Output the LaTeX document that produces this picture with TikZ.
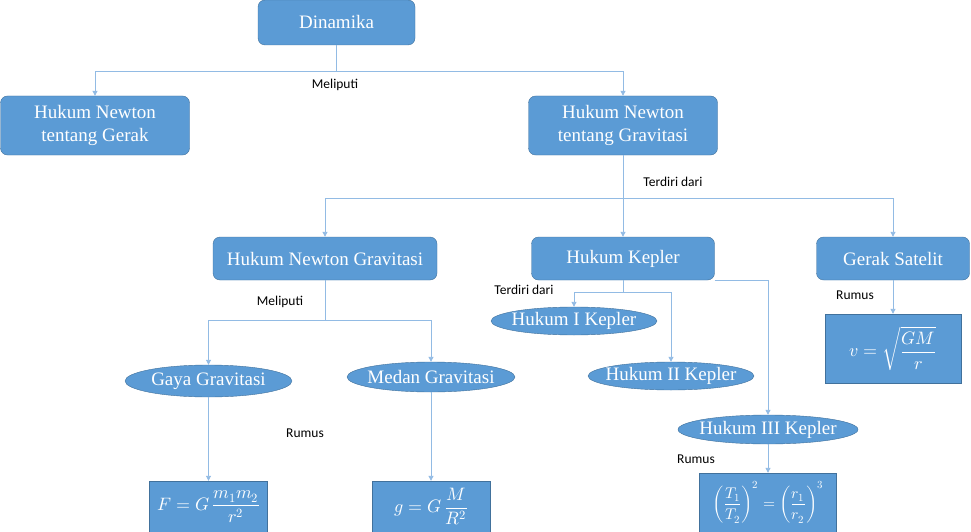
\documentclass[tikz,border=0pt]{standalone}
\usepackage{fontspec}
\usepackage{unicode-math}
\setmainfont{Liberation Serif}
\setmathfont{Latin Modern Math}
\newfontfamily\labelfont{Carlito}
\usetikzlibrary{arrows.meta,shapes.geometric}
\definecolor{boxblue}{HTML}{5B9BD5}
\definecolor{boxedge}{HTML}{41719C}
\definecolor{linkblue}{HTML}{92BBE4}
\newcommand{\ovaltext}[1]{\makebox[0pt]{#1}}

\begin{document}
\begin{tikzpicture}[
	x=1pt, y=-1pt,
	topic/.style={
		rectangle,
		draw=boxedge,
		fill=boxblue,
		text=white,
		align=center,
		rounded corners=7pt,
		font=\fontsize{19}{23}\selectfont,
		inner sep=0pt
	},
	oval/.style={
		ellipse,
		draw=boxedge,
		fill=boxblue,
		text=white,
		font=\fontsize{19}{23}\selectfont,
		inner sep=0pt
	},
	formula/.style={
		rectangle,
		draw=boxedge,
		fill=boxblue,
		text=white,
		font=\fontsize{18}{22}\selectfont,
		inner sep=0pt
	},
	link/.style={
		draw=linkblue,
		line width=0.9pt
	},
	arr/.style={
		link,
		-{Triangle[width=5pt,length=5pt]}
	},
	note/.style={
		font=\labelfont\fontsize{13.5}{15}\selectfont,
		text=black
	},
]
\useasboundingbox (0,0) rectangle (971,532);

\node[topic, minimum width=157pt, minimum height=45pt] (dinamika) at (336.5,22.5) {Dinamika};
\node[topic, minimum width=189pt, minimum height=59pt] (gerak) at (95,125.5) {Hukum Newton \\ tentang Gerak};
\node[topic, minimum width=189pt, minimum height=59pt] (gravitasi) at (623,125.5) {Hukum Newton \\ tentang Gravitasi};

\node[topic, minimum width=224pt, minimum height=43pt] (newtongrav) at (325,258.5) {Hukum Newton Gravitasi};
\node[topic, minimum width=183pt, minimum height=43pt] (kepler) at (623,258.5) {Hukum Kepler};
\node[topic, minimum width=153pt, minimum height=43pt] (satelit) at (893,258.5) {Gerak Satelit};

\node[oval, minimum width=167pt, minimum height=32pt] (gaya) at (208.5,381) {\ovaltext{Gaya Gravitasi}};
\node[oval, minimum width=168pt, minimum height=30pt] (medan) at (431,377) {\ovaltext{Medan Gravitasi}};

\node[oval, minimum width=166pt, minimum height=28pt] (keplerI) at (574,321) {\ovaltext{Hukum I Kepler}};
\node[oval, minimum width=166pt, minimum height=28pt] (keplerII) at (671,376) {\ovaltext{Hukum II Kepler}};
\node[oval, minimum width=180pt, minimum height=29pt] (keplerIII) at (768,429.5) {\ovaltext{Hukum III Kepler}};

\node[formula, minimum width=118pt, minimum height=51pt] (rumusF) at (208.5,506.5) {$\displaystyle F=G\,\frac{m_1m_2}{r^2}$};
\node[formula, minimum width=118pt, minimum height=51pt] (rumusg) at (431,506.5) {$\displaystyle g=G\,\frac{M}{R^2}$};
\node[formula, minimum width=137pt, minimum height=59pt, font=\fontsize{15.5}{18}\selectfont] (rumusT) at (768,502.5) {$\displaystyle \left(\frac{T_1}{T_2}\right)^{2}=\left(\frac{r_1}{r_2}\right)^{3}$};
\node[formula, minimum width=136pt, minimum height=69pt] (rumusv) at (893,348.5) {$\displaystyle v=\sqrt{\frac{GM}{r}}$};

\coordinate (split1) at (336.5,71);
\coordinate (split2) at (623,198);
\coordinate (split3) at (325,320);
\coordinate (split4) at (623,292);

\draw[link] (dinamika.south) -- (split1);
\draw[arr] (split1) -| (gerak.north);
\draw[arr] (split1) -| (gravitasi.north);

\draw[link] (gravitasi.south) -- (split2);
\draw[arr] (split2) -| (newtongrav.north);
\draw[arr] (split2) -- (kepler.north);
\draw[arr] (split2) -| (satelit.north);

\draw[link] (newtongrav.south) -- (split3);
\draw[arr] (split3) -| (gaya.north);
\draw[arr] (split3) -| (medan.north);

\draw[link] (kepler.south) -- (split4);
\draw[arr] (split4) -| (keplerI.north);
\draw[arr] (split4) -| (keplerII.north);
\draw[arr] (kepler.south east) -| (keplerIII.north);

\draw[arr] (gaya.south) -- (rumusF.north);
\draw[arr] (medan.south) -- (rumusg.north);
\draw[arr] (keplerIII.south) -- (rumusT.north);
\draw[arr] (satelit.south) -- (rumusv.north);

\node[note] (meliputi1) at (335,85) {Meliputi};
\node[note] (terdiri1) at (673,182) {Terdiri dari};
\node[note] (meliputi2) at (280,302) {Meliputi};
\node[note] (terdiri2) at (524,290) {Terdiri dari};
\node[note] (rumus1) at (305,433) {Rumus};
\node[note] (rumus2) at (696,459) {Rumus};
\node[note] (rumus3) at (855,295) {Rumus};

\end{tikzpicture}
\end{document}
